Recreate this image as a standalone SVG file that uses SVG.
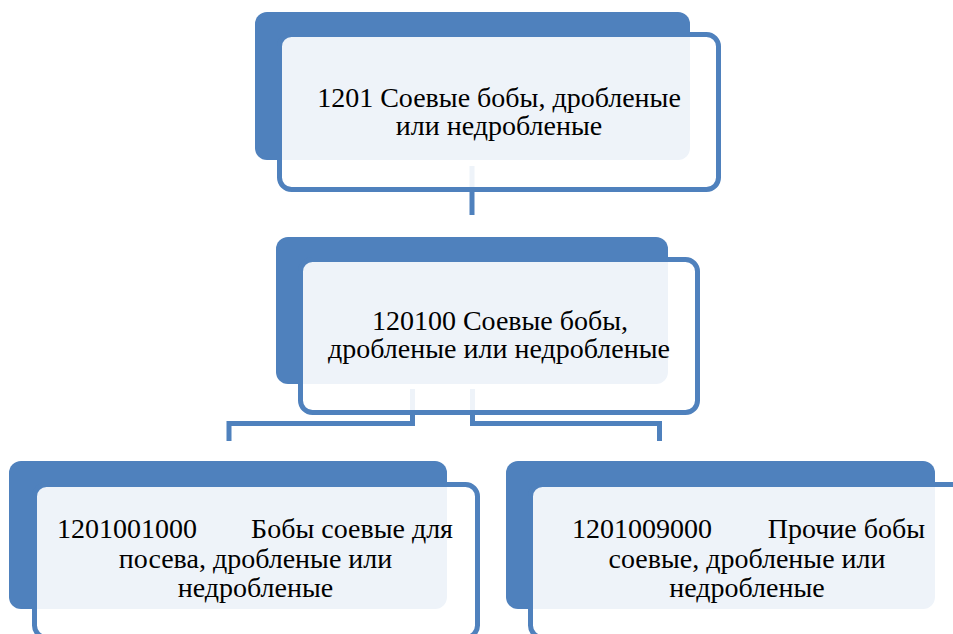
<svg xmlns="http://www.w3.org/2000/svg" width="953" height="634" viewBox="0 0 953 634">
<style>
.back{fill:#4f81bd}
.front{fill:#ffffff;fill-opacity:0.9;stroke:#4f81bd;stroke-width:5}
.conn{fill:none;stroke:#4f81bd;stroke-width:5}
text{font-family:"Liberation Serif","Times New Roman",serif;font-size:28px;fill:#000}
</style>
<rect width="953" height="634" fill="#ffffff"/>
<g id="connectors">
<path class="conn" d="M472 166 V215"/>
<path class="conn" d="M412.5 389 V423.5 H229 V441"/>
<path class="conn" d="M472.5 389 V423.5 H659.5 V441"/>
</g>
<g id="node1">
<rect class="back" x="255" y="12" width="435" height="148" rx="12"/>
<rect class="front" x="279.5" y="34.5" width="439" height="155" rx="12"/>
<text text-anchor="middle"><tspan x="499" y="107">1201 Соевые бобы, дробленые</tspan><tspan x="499" y="135">или недробленые</tspan></text>
</g>
<g id="node2">
<rect class="back" x="276" y="237" width="392" height="147" rx="12"/>
<rect class="front" x="300.5" y="259.5" width="397" height="153" rx="12"/>
<text text-anchor="middle"><tspan x="500" y="330">120100 Соевые бобы,</tspan><tspan x="499" y="358">дробленые или недробленые</tspan></text>
</g>
<g id="node3">
<rect class="back" x="9" y="461" width="438" height="148" rx="12"/>
<rect class="front" x="34.5" y="484.5" width="443" height="153" rx="12"/>
<text><tspan x="57" y="538">1201001000</tspan><tspan x="453" y="538" text-anchor="end">Бобы соевые для</tspan></text>
<text text-anchor="middle"><tspan x="255.5" y="568">посева, дробленые или</tspan><tspan x="255.5" y="597">недробленые</tspan></text>
</g>
<g id="node4">
<rect class="back" x="506" y="461" width="429" height="148" rx="12"/>
<rect class="front" x="530.5" y="484.5" width="443" height="153" rx="12"/>
<text><tspan x="572" y="538">1201009000</tspan><tspan x="925" y="538" text-anchor="end">Прочие бобы</tspan></text>
<text text-anchor="middle"><tspan x="747" y="568">соевые, дробленые или</tspan><tspan x="747" y="597">недробленые</tspan></text>
</g>
</svg>
